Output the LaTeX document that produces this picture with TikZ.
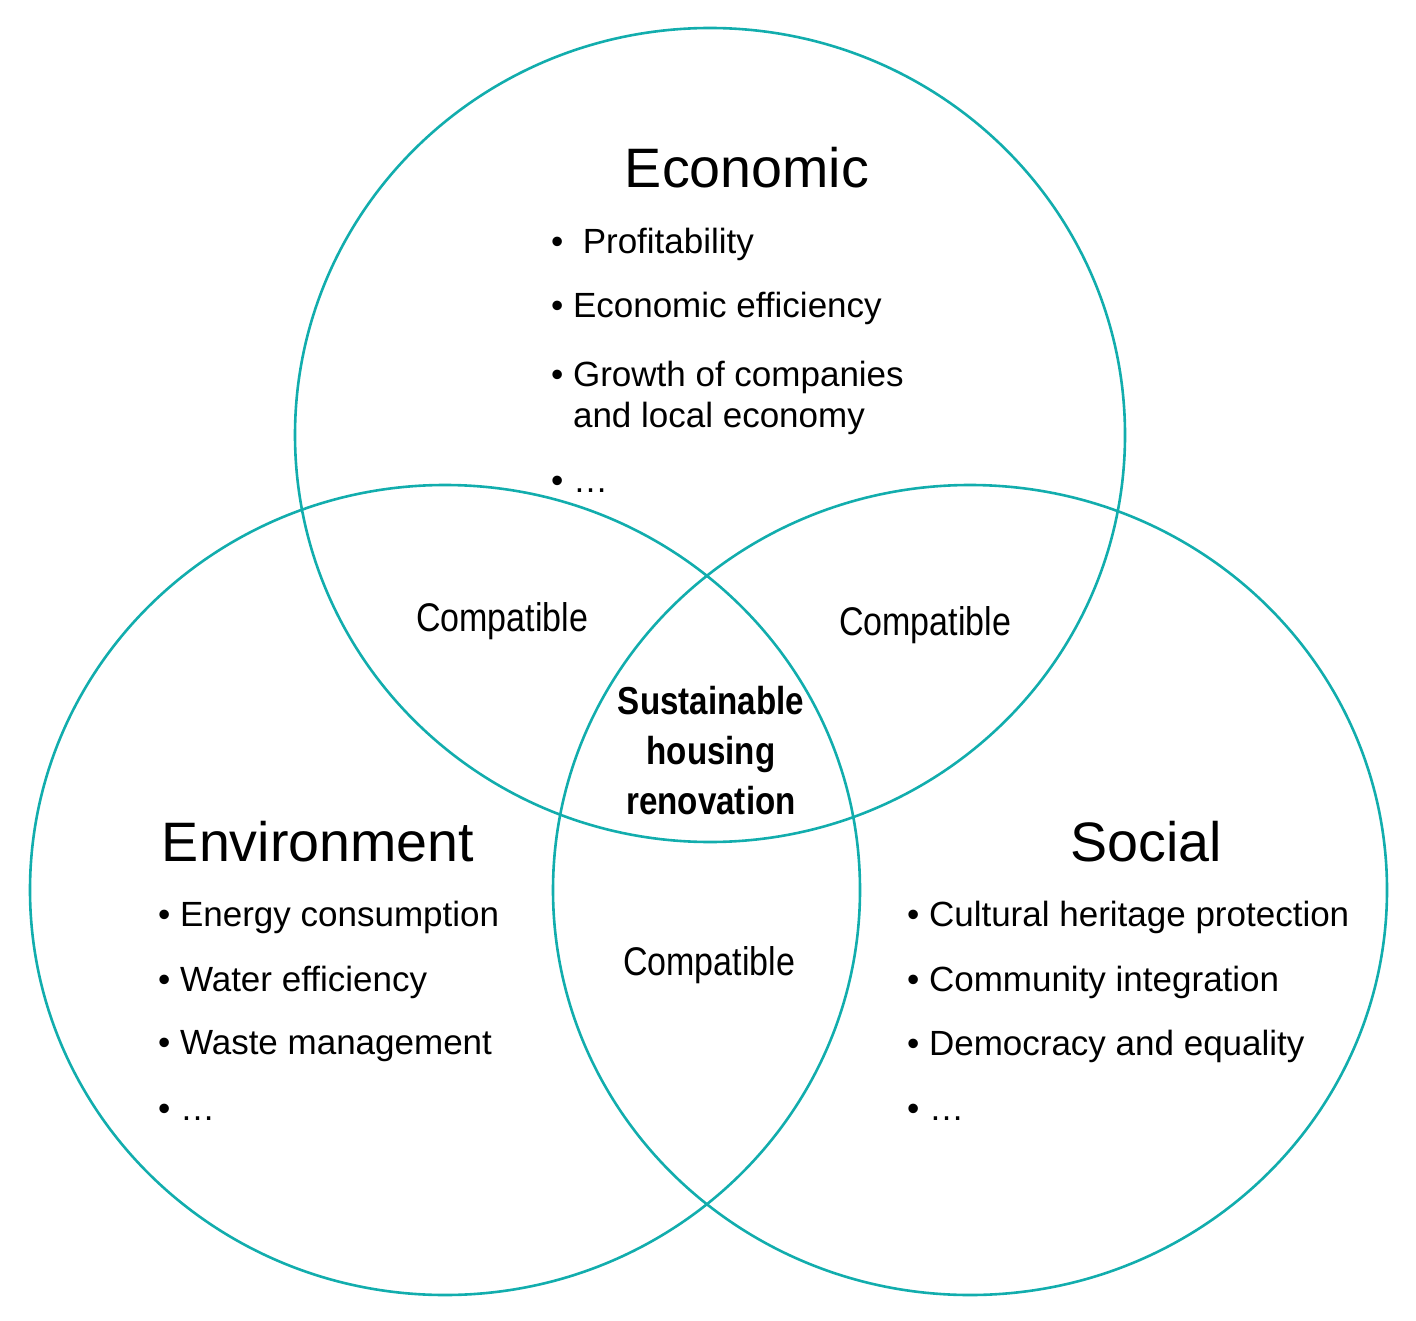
\documentclass[tikz,border=0pt]{standalone}
\usepackage{fontspec}
\setmainfont{Liberation Sans}
\begin{document}
\begin{tikzpicture}[x=0.5pt,y=-0.5pt,
  head/.style={font=\fontsize{27.8}{32}\selectfont},
  item/.style={anchor=west,font=\fontsize{17.5}{21.5}\selectfont,align=left},
  compat/.style={font=\fontsize{20}{22}\selectfont, xscale=0.85}]
\useasboundingbox (0,0) rectangle (1416,1320);
\definecolor{ring}{HTML}{12ADAD}
\draw[line width=1.3pt, draw=ring] (710,435) ellipse [x radius=415, y radius=407];
\draw[line width=1.3pt, draw=ring] (445,890) ellipse [x radius=415, y radius=405];
\draw[line width=1.3pt, draw=ring] (970,890) ellipse [x radius=417, y radius=405];
\node[head] (eco) at (747,168) {Economic};
\node[item] (e1) at (544,244) {\textbullet\ \ Profitability};
\node[item] (e2) at (544,308) {\textbullet\ Economic efficiency};
\node[item,anchor=north west] (e3) at (544,354) {\textbullet\ Growth of companies\\[-1pt]\phantom{\textbullet\ }and local economy};
\node[item] (e4) at (544,484) {\textbullet\ \dots};
\node[head] (env) at (318,842) {Environment};
\node[item] (v1) at (151,917) {\textbullet\ Energy consumption};
\node[item] (v2) at (151,982) {\textbullet\ Water efficiency};
\node[item] (v3) at (151,1046) {\textbullet\ Waste management};
\node[item] (v4) at (151,1112) {\textbullet\ \dots};
\node[head] (soc) at (1146,842) {Social};
\node[item] (s1) at (900,917) {\textbullet\ Cultural heritage protection};
\node[item] (s2) at (900,982) {\textbullet\ Community integration};
\node[item] (s3) at (900,1046) {\textbullet\ Democracy and equality};
\node[item] (s4) at (900,1112) {\textbullet\ \dots};
\node[compat] (c1) at (502,621) {Compatible};
\node[compat] (c2) at (925,625) {Compatible};
\node[compat] (c3) at (709,965) {Compatible};
\node[font=\fontsize{19.5}{25}\selectfont\bfseries, xscale=0.85, align=center] (sus) at (711,751) {Sustainable\\housing\\renovation};
\end{tikzpicture}
\end{document}
